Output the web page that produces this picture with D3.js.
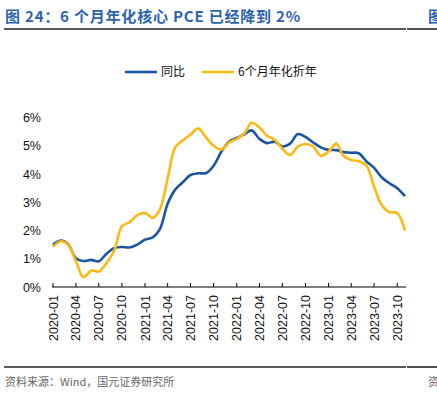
<!DOCTYPE html>
<html lang="zh">
<head>
<meta charset="UTF-8">
<title>6个月年化核心PCE</title>
<script src="https://cdn.jsdelivr.net/npm/d3@7"></script>
<style>
    body { margin: 0; background: #fff; }
    svg { display: block; }
</style>
</head>
<body>
<div id="chart"></div>
<script>

// monthly data, 2020-01 .. 2023-11
var startMonth = "2020-01",
    endMonth = "2023-11";

var yoy = [1.50, 1.65, 1.52, 1.02, 0.92, 0.96, 0.91, 1.18, 1.38, 1.42, 1.40, 1.50,
           1.68, 1.76, 2.05, 2.95, 3.45, 3.72, 3.97, 4.03, 4.04, 4.30, 4.80, 5.15,
           5.28, 5.42, 5.55, 5.25, 5.10, 5.15, 4.98, 5.08, 5.42, 5.32, 5.12, 4.95,
           4.86, 4.85, 4.78, 4.76, 4.74, 4.45, 4.22, 3.88, 3.67, 3.50, 3.22];

var ann6m = [1.42, 1.62, 1.50, 0.92, 0.35, 0.58, 0.55, 0.85, 1.30, 2.15, 2.30, 2.55,
             2.62, 2.45, 2.75, 3.85, 4.95, 5.20, 5.40, 5.62, 5.30, 5.00, 4.87, 5.12,
             5.25, 5.45, 5.82, 5.65, 5.36, 5.22, 4.90, 4.68, 4.98, 5.07, 4.98, 4.65,
             4.80, 5.08, 4.65, 4.50, 4.46, 4.30, 3.55, 2.90, 2.65, 2.62, 2.00];

var yTicks = [0, 1, 2, 3, 4, 5, 6];
var seriesNames = ["同比", "6个月年化折年"];
var seriesColors = ["#1a55a3", "#fdb813"];

var width = 437, height = 393;
var margin = {left: 53, right: 32, top: 117, bottom: 106};

var parseMonth = d3.timeParse("%Y-%m");
var months = d3.timeMonth.range(parseMonth(startMonth), d3.timeMonth.offset(parseMonth(endMonth), 1));

var svg = d3.select("#chart").append("svg")
    .attr("width", width)
    .attr("height", height);

// title + rules (neighbouring panel's title / source peek in at the right edge)
svg.append("text")
    .attr("x", 5).attr("y", 22)
    .attr("font-family", "Noto Sans CJK SC, sans-serif")
    .attr("font-size", "15px")
    .attr("font-weight", "bold")
    .attr("letter-spacing", "0.8px")
    .attr("fill", "#2d63ad")
    .text("图 24：6 个月年化核心 PCE 已经降到 2%");
svg.append("text")
    .attr("x", 428).attr("y", 22)
    .attr("font-family", "Noto Sans CJK SC, sans-serif")
    .attr("font-size", "15px")
    .attr("font-weight", "bold")
    .attr("fill", "#2d63ad")
    .text("图");

[[4, 406], [407, 437]].forEach(function(s) {
    svg.append("line").attr("x1", s[0]).attr("x2", s[1])
        .attr("y1", 29).attr("y2", 29)
        .attr("stroke", "#222").attr("stroke-width", 1.6);
    svg.append("line").attr("x1", s[0]).attr("x2", s[1])
        .attr("y1", 367).attr("y2", 367)
        .attr("stroke", "#222").attr("stroke-width", 1.6);
});

// scales
var x = d3.scaleTime()
    .domain(d3.extent(months))
    .range([margin.left, width - margin.right]);

var y = d3.scaleLinear()
    .domain([0, 6])
    .range([height - margin.bottom, margin.top + 0.7]);

// x axis
var xAxis = svg.append("g")
    .attr("transform", "translate(0," + y(0) + ")");
xAxis.append("line")
    .attr("x1", margin.left - 1).attr("x2", width - margin.right + 1)
    .attr("stroke", "#000").attr("stroke-width", 1);
var xTicks = months.filter(function(d) { return d.getMonth() % 3 === 0; });
xAxis.selectAll(".tick").data(xTicks).enter()
    .append("line")
    .attr("x1", function(d) { return x(d); })
    .attr("x2", function(d) { return x(d); })
    .attr("y1", 0).attr("y2", -4)
    .attr("stroke", "#000");
xAxis.selectAll(".label").data(xTicks).enter()
    .append("text")
    .attr("transform", function(d) { return "translate(" + (x(d) + 4.5) + ",8) rotate(-90)"; })
    .attr("text-anchor", "end")
    .attr("font-family", "Liberation Sans, Arial, sans-serif")
    .attr("font-size", "12.5px")
    .attr("fill", "#111")
    .text(d3.timeFormat("%Y-%m"));

// y labels, no axis line
svg.append("g").selectAll("text").data(yTicks).enter()
    .append("text")
    .attr("x", 41)
    .attr("y", function(d) { return y(d); })
    .attr("dy", "0.36em")
    .attr("text-anchor", "end")
    .attr("font-family", "Liberation Sans, Arial, sans-serif")
    .attr("font-size", "12.5px")
    .attr("fill", "#111")
    .text(function(d) { return d + "%"; });

// lines
var line = d3.line()
    .x(function(d, i) { return x(months[i]); })
    .y(function(d) { return y(d); })
    .curve(d3.curveCatmullRom);

[yoy, ann6m].forEach(function(vals, k) {
    svg.append("path")
        .datum(vals)
        .attr("d", line)
        .attr("fill", "none")
        .attr("stroke", seriesColors[k])
        .attr("stroke-width", 2.6);
});

// legend
var legendX = [125, 202];
seriesNames.forEach(function(name, k) {
    var g = svg.append("g").attr("transform", "translate(" + legendX[k] + ",72)");
    g.append("line").attr("x1", 0).attr("x2", 32)
        .attr("stroke", seriesColors[k]).attr("stroke-width", 2.6);
    g.append("text")
        .attr("x", 36).attr("dy", "0.36em")
        .attr("font-family", "Noto Sans CJK SC, sans-serif")
        .attr("font-size", "12px")
        .attr("fill", "#111")
        .text(name);
});

// source
svg.append("text")
    .attr("x", 5).attr("y", 386)
    .attr("font-family", "Noto Sans CJK SC, sans-serif")
    .attr("font-size", "11px")
    .attr("fill", "#666")
    .text("资料来源：Wind，国元证券研究所");
svg.append("text")
    .attr("x", 428).attr("y", 386)
    .attr("font-family", "Noto Sans CJK SC, sans-serif")
    .attr("font-size", "11px")
    .attr("fill", "#666")
    .text("资");

</script>
</body>
</html>
